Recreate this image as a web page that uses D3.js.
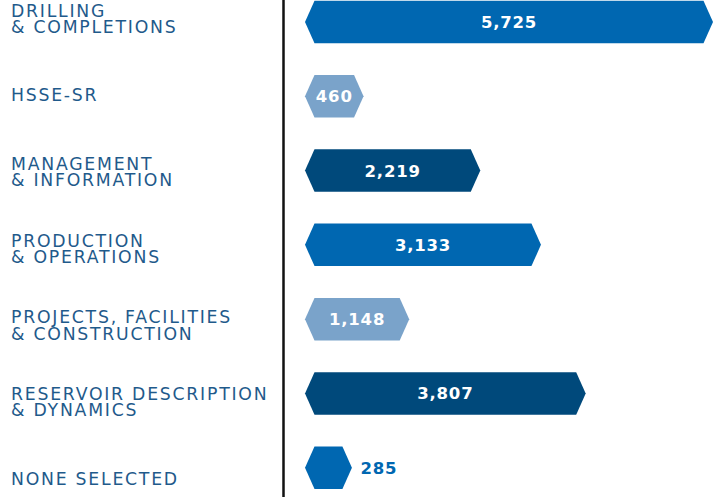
<!DOCTYPE html>
<html>
<head>
<meta charset="utf-8">
<script src="https://cdn.jsdelivr.net/npm/d3@7"></script>
<style>
  body { margin: 0; background: #fff; }
  .cat { font-family: "DejaVu Sans", sans-serif; font-size: 17.3px; fill: #1f5a8b; letter-spacing: 1.75px; }
  .val { font-family: "DejaVu Sans", sans-serif; font-weight: bold; font-size: 16.5px; letter-spacing: 0.8px; }
</style>
</head>
<body>
<div id="chart"></div>
<script>
// categories (each label can have two lines)
var categories = [
	["DRILLING", "& COMPLETIONS"],
	["HSSE-SR"],
	["MANAGEMENT", "& INFORMATION"],
	["PRODUCTION", "& OPERATIONS"],
	["PROJECTS, FACILITIES", "& CONSTRUCTION"],
	["RESERVOIR DESCRIPTION", "& DYNAMICS"],
	["NONE SELECTED"]
];
var values = [5725, 460, 2219, 3133, 1148, 3807, 285];
var barColors = ["#0067b1", "#7aa3ca", "#00497b"];

var svg_width = 723;
var svg_height = 497;
var barLeft = 305;
var barHeight = 42.5;
var tip = 9.5;

var svg = d3.select("#chart").append("svg")
	.attr("width", svg_width)
	.attr("height", svg_height);

var keys = categories.map(function(d, i) { return i; });

// bar centres and label centres
var y = d3.scalePoint().domain(keys).range([22, 467.7]);
var yLabel = d3.scalePoint().domain(keys).range([18.5, 478.4]);
var x = d3.scaleLinear().domain([0, d3.max(values)]).range([28, 408]);

var fmt = d3.format(",");

function hexPath(x0, w, yc, h) {
	var p = d3.path();
	p.moveTo(x0, yc);
	p.lineTo(x0 + tip, yc - h / 2);
	p.lineTo(x0 + w - tip, yc - h / 2);
	p.lineTo(x0 + w, yc);
	p.lineTo(x0 + w - tip, yc + h / 2);
	p.lineTo(x0 + tip, yc + h / 2);
	p.closePath();
	return p.toString();
}

// category labels
var lineGap = 16.3;
var labels = svg.selectAll(".cat")
	.data(categories)
	.enter().append("text")
	.attr("class", "cat")
	.attr("x", 11);

labels.each(function(d, i) {
	var top = yLabel(i) - (d.length - 1) * lineGap / 2;
	d3.select(this).selectAll("tspan")
		.data(d)
		.enter().append("tspan")
		.attr("x", 11)
		.attr("y", function(t, j) { return top + j * lineGap + 6.3; })
		.text(function(t) { return t; });
});

// divider line
svg.append("line")
	.attr("x1", 283.5).attr("x2", 283.5)
	.attr("y1", 0).attr("y2", svg_height)
	.attr("stroke", "#111")
	.attr("stroke-width", 2.5);

// bars
svg.selectAll(".bar")
	.data(values)
	.enter().append("path")
	.attr("class", "bar")
	.attr("d", function(d, i) { return hexPath(barLeft, x(d), y(i), barHeight); })
	.attr("fill", function(d, i) { return barColors[i % 3]; });

// value labels, inside the bar unless it does not fit
var vals = svg.selectAll(".val")
	.data(values)
	.enter().append("text")
	.attr("class", "val")
	.attr("y", function(d, i) { return y(i); })
	.attr("dy", "0.36em")
	.text(function(d) { return fmt(d); });

vals.each(function(d, i) {
	var t = d3.select(this);
	var tw = this.getComputedTextLength();
	var w = x(d);
	if (tw + 16 < w) {
		t.attr("x", barLeft + w / 2).attr("text-anchor", "middle").attr("fill", "#fff");
	} else {
		t.attr("x", barLeft + w + 8.5).attr("text-anchor", "start").attr("fill", barColors[i % 3]);
	}
});
</script>
</body>
</html>
